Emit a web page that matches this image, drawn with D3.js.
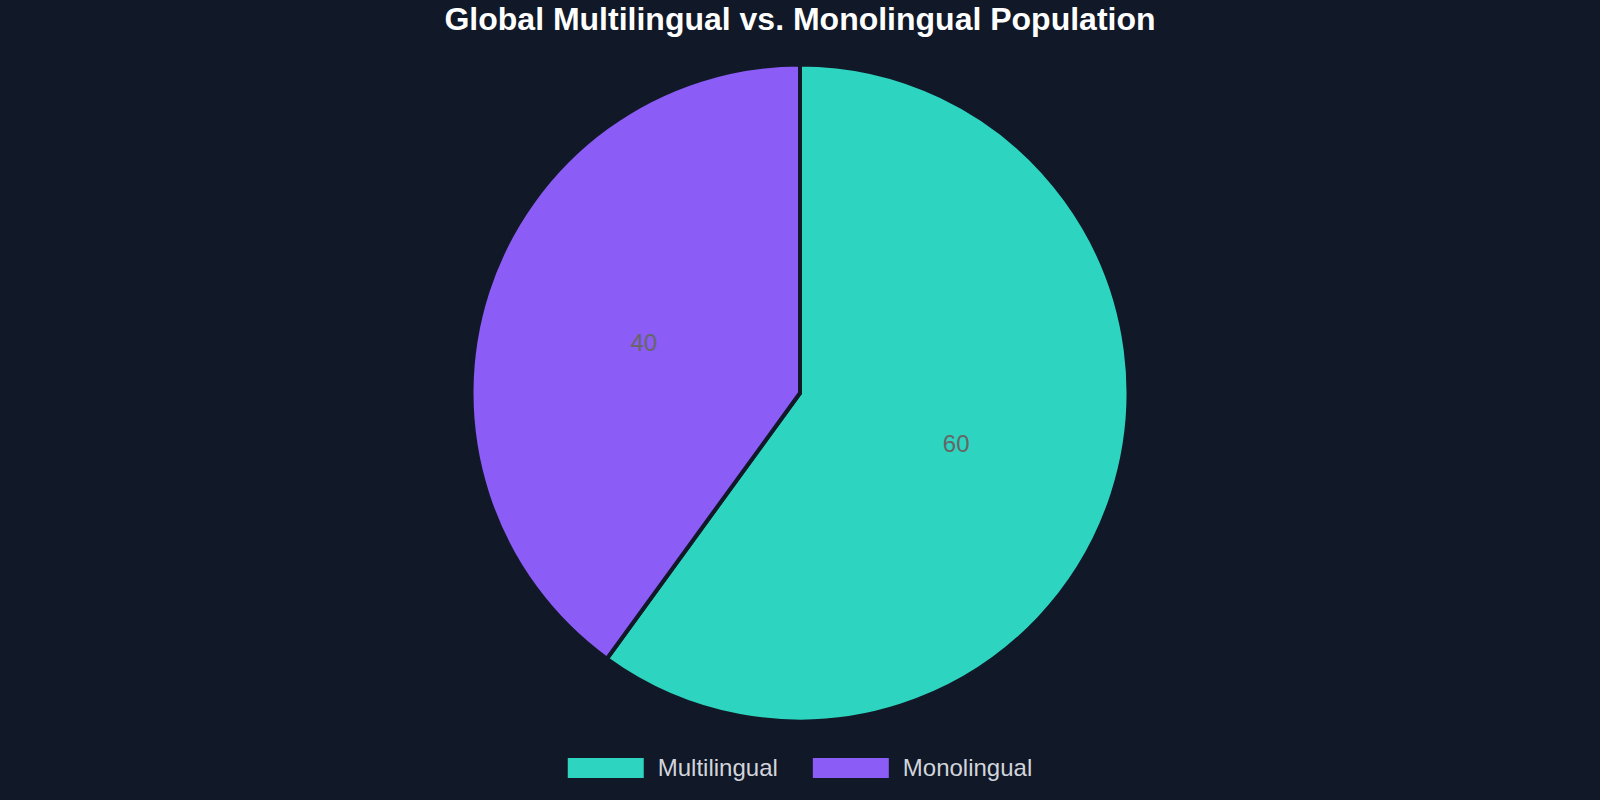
<!DOCTYPE html>
<html>
<head>
<meta charset="utf-8">
<script src="https://cdn.jsdelivr.net/npm/d3@7"></script>
<style>
  html, body { margin: 0; padding: 0; background: #111827; }
  svg { display: block; font-family: "Liberation Sans", Arial, sans-serif; }
</style>
</head>
<body>
<svg id="chart" width="1600" height="800"></svg>
<script>
const categories = ["Multilingual", "Monolingual"];
const values = [60, 40];
const colors = ["#2dd4bf", "#8b5cf6"];

const svg = d3.select("#chart"),
  width = +svg.attr("width"),
  height = +svg.attr("height");

svg.append("rect").attr("width", width).attr("height", height).attr("fill", "#111827");

svg
  .append("text")
  .attr("x", width / 2)
  .attr("y", 30)
  .attr("text-anchor", "middle")
  .attr("fill", "#ffffff")
  .style("font-size", "32px")
  .style("font-weight", "bold")
  .text("Global Multilingual vs. Monolingual Population");

const radius = 328.5;
const g = svg.append("g").attr("transform", `translate(${width / 2},393)`);

const data = categories.map((c, i) => ({ name: c, value: values[i], color: colors[i] }));

const pie = d3.pie().sort(null).value((d) => d.value);
const arc = d3.arc().innerRadius(0).outerRadius(radius);

const slices = g.selectAll("g.slice").data(pie(data)).join("g").attr("class", "slice");

slices
  .append("path")
  .attr("d", arc)
  .attr("fill", (d) => d.data.color)
  .attr("stroke", "#111827")
  .attr("stroke-width", 4);

slices
  .append("text")
  .attr("transform", (d) => `translate(${arc.centroid(d)})`)
  .attr("text-anchor", "middle")
  .attr("dy", "0.35em")
  .attr("fill", "#666666")
  .style("font-size", "24px")
  .text((d) => d.data.value);

// legend
const legend = svg.append("g");
const items = legend
  .selectAll("g")
  .data(data)
  .join("g");

items
  .append("rect")
  .attr("width", 76)
  .attr("height", 20)
  .attr("y", 758)
  .attr("fill", (d) => d.color);

items
  .append("text")
  .attr("x", 90)
  .attr("y", 776)
  .attr("fill", "#d1d5db")
  .style("font-size", "24px")
  .text((d) => d.name);

let x = 0;
const xs = [];
items.each(function () {
  xs.push(x);
  const w = 90 + d3.select(this).select("text").node().getComputedTextLength();
  x += w + 35;
});
const total = x - 35;
const start = width / 2 - total / 2;
items.attr("transform", (d, i) => `translate(${start + xs[i]},0)`);
</script>
</body>
</html>
